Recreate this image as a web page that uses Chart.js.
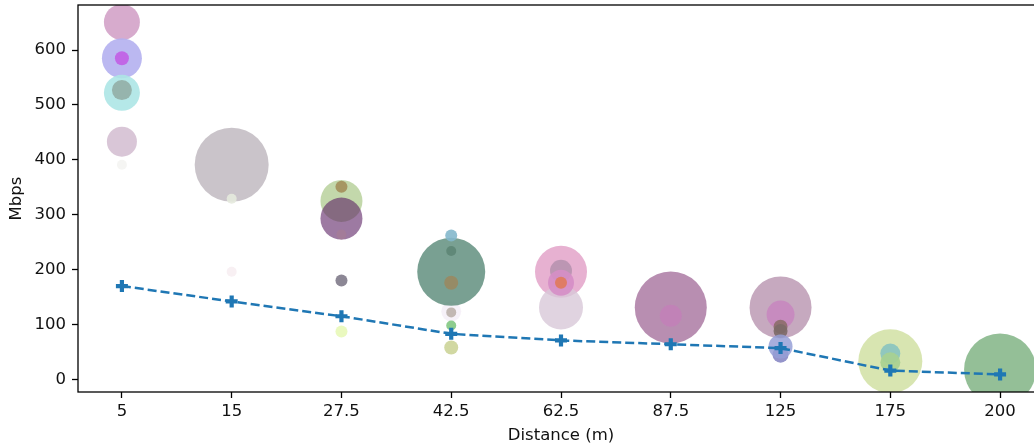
<!DOCTYPE html>
<html>
<head>
<meta charset="utf-8">
<script src="https://cdn.jsdelivr.net/npm/chart.js@4"></script>
<style>
html, body { margin: 0; padding: 0; background: #fff; overflow: hidden; }
</style>
</head>
<body>
<canvas id="myChart" width="1050" height="447"></canvas>
<script>
const categories = ['5', '15', '27.5', '42.5', '62.5', '87.5', '125', '175', '200'];
const yTicks = [0, 100, 200, 300, 400, 500, 600];
const avgMbps = [170, 142, 115, 83, 71, 64, 57, 16, 9];

// one entry per bubble: category index, Mbps, bubble size
const bubbleCat = [
    0, 0, 0, 0, 0, 0, 0,
    1, 1, 1,
    2, 2, 2, 2, 2, 2,
    3, 3, 3, 3, 3, 3, 3, 3,
    4, 4, 4, 4, 4,
    5, 5,
    6, 6, 6, 6, 6, 6,
    7, 7, 7,
    8
];
const bubbleMbps = [
    651, 585, 585, 522, 527, 433, 391,
    391, 329, 196,
    325, 351, 293, 264, 180, 87,
    124, 196, 262, 234, 176, 122, 98, 58,
    196, 131, 198, 176, 176,
    131, 116,
    131, 118, 96, 88, 45, 60,
    33, 47, 31,
    18
];
const bubbleSize = [
    18, 20, 7, 18, 10, 15, 5,
    37, 5, 5,
    21, 6, 21, 5, 6, 6,
    10, 34, 6, 5, 7, 5, 5, 7,
    26, 22, 11, 13, 6,
    36, 11,
    31, 14, 7, 7, 8, 12,
    32, 10, 10,
    36
];
const bubbleColors = [
    '#d3a2c8', '#b4b0f0', '#c25ee6', '#ade6e6', '#93aea6', '#d5c0d3', '#f4f4f2',
    '#c4bec4', '#e6eade', '#f7eef2',
    '#bdd4a2', '#a38f5b', 'rgba(92,34,100,0.6)', '#a47c98', '#807a8a', '#e8f8b8',
    '#f5eff7', '#6a9686', '#84b8cc', '#5e8676', '#9a8a62', '#bcb2ac', '#82c882', '#ccd498',
    '#e4a8cc', 'rgba(216,200,216,0.8)', '#b894b0', '#d68ec6', '#e07a5a',
    '#b082a8', '#c282b8',
    '#c0a0b8', '#c888c0', '#8c6e6a', '#7c6a68', '#8888c4', 'rgba(150,160,215,0.85)',
    '#d4e2a8', '#88c4c0', '#a8d090',
    '#88b88c'
];

const ctx = document.getElementById('myChart');
const font = {family: 'DejaVu Sans', size: 16.5};
const textColor = '#111';

const bubbles = bubbleCat.map((c, i) => ({x: c, y: bubbleMbps[i], r: bubbleSize[i]}));
const linePts = avgMbps.map((v, i) => ({x: i, y: v}));

// matplotlib style frame drawn over the data
const framePlugin = {
    id: 'frame',
    afterDraw(chart) {
        const a = chart.chartArea;
        const c = chart.ctx;
        c.save();
        c.strokeStyle = '#000';
        c.lineWidth = 1.3;
        c.strokeRect(a.left, a.top, a.right - a.left, a.bottom - a.top);
        c.restore();
    }
};

new Chart(ctx, {
    type: 'bubble',
    data: {
        datasets: [
            {
                type: 'line',
                data: linePts,
                borderColor: '#1f77b4',
                backgroundColor: '#1f77b4',
                borderWidth: 2.5,
                borderDash: [9, 4],
                pointStyle: 'cross',
                pointRadius: 6,
                pointBorderWidth: 4.2,
                fill: false,
                order: 0
            },
            {
                data: bubbles,
                backgroundColor: bubbleColors.map(c => c.startsWith('#') ? c + 'e6' : c),
                borderWidth: 0,
                order: 1
            }
        ]
    },
    options: {
        responsive: false,
        animation: false,
        layout: {autoPadding: false, padding: {left: 0, right: 6, top: 5, bottom: 0}},
        plugins: {legend: {display: false}, tooltip: {enabled: false}},
        scales: {
            x: {
                type: 'linear',
                min: -0.4,
                max: 8.4,
                afterBuildTicks: s => { s.ticks = categories.map((c, i) => ({value: i})); },
                afterFit: s => { s.height = 55; s.paddingLeft = 0; s.paddingRight = 0; },
                ticks: {callback: v => categories[v], font: font, color: textColor, padding: 4, maxRotation: 0, autoSkip: false},
                grid: {drawOnChartArea: false, tickLength: 6, tickColor: '#000', tickWidth: 1.3},
                border: {display: false},
                title: {display: true, text: 'Distance (m)', font: font, color: textColor, padding: {top: 0, bottom: 1}}
            },
            y: {
                type: 'linear',
                min: -23,
                max: 682,
                afterBuildTicks: s => { s.ticks = yTicks.map(v => ({value: v})); },
                afterFit: s => { s.width = 78; s.paddingTop = 0; s.paddingBottom = 0; },
                ticks: {font: font, color: textColor, padding: 6},
                grid: {drawOnChartArea: false, tickLength: 6, tickColor: '#000', tickWidth: 1.3},
                border: {display: false},
                title: {display: true, text: 'Mbps', font: font, color: textColor, padding: {top: 7, bottom: 0}}
            }
        }
    },
    plugins: [framePlugin]
});
</script>
</body>
</html>
